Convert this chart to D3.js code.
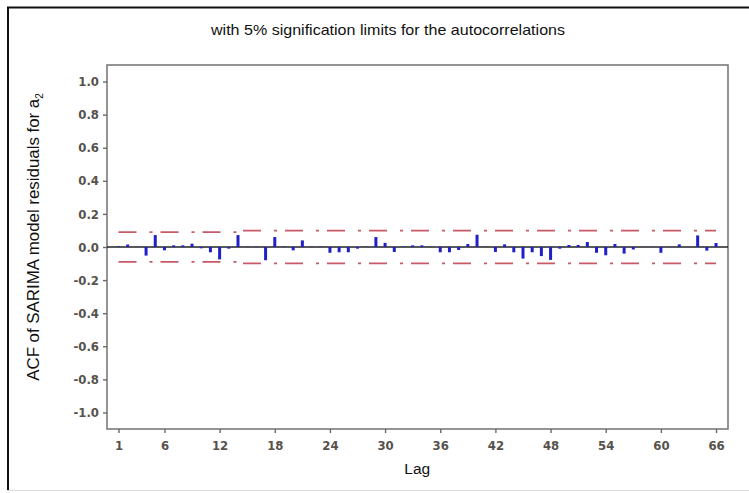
<!DOCTYPE html>
<html>
<head>
<meta charset="utf-8">
<script src="https://cdn.jsdelivr.net/npm/d3@7/dist/d3.min.js"></script>
<style>
  html, body { margin: 0; padding: 0; background: #fff; }
  svg { display: block; }
</style>
</head>
<body>
<script>
// Autocorrelations of the SARIMA residuals, lags 1..66
const acfValues = [
  0.004, 0.015, 0.002, -0.052, 0.072, -0.020, 0.010, 0.010, 0.020, -0.008,
  -0.032, -0.075, -0.010, 0.072, 0.002, 0.002, -0.080, 0.060, 0.003, -0.020,
  0.040, 0.002, 0.002, -0.035, -0.032, -0.032, -0.010, 0.002, 0.060, 0.025,
  -0.030, 0.002, 0.010, 0.010, 0.002, -0.032, -0.032, -0.018, 0.018, 0.074,
  0.002, -0.030, 0.016, -0.032, -0.070, -0.032, -0.055, -0.078, -0.010, 0.012,
  0.012, 0.030, -0.035, -0.050, 0.018, -0.040, -0.015, 0.001, 0.001, -0.035,
  0.001, 0.016, 0.001, 0.070, -0.022, 0.024
];
const lagLabels = acfValues.map((v, i) => i + 1);

// Axis ticks
const xTickLags = [1, 6, 12, 18, 24, 30, 36, 42, 48, 54, 60, 66];
const yTickValues = [1.0, 0.8, 0.6, 0.4, 0.2, 0.0, -0.2, -0.4, -0.6, -0.8, -1.0];

// 5% significance limits (±), piecewise over lag ranges
const limitLagBreaks = [1, 14.5, 66];
const limitLevels = [0.090, 0.099];

// Texts
const titleText = "with 5% signification limits for the autocorrelations";
const yLabelMain = "ACF of SARIMA model residuals for a";
const yLabelSub = "2";
const xLabelText = "Lag";

const W = 749, H = 493;
const plot = { left: 107, right: 728, top: 65, bottom: 429 };

const svg = d3.select("body").append("svg")
  .attr("width", W).attr("height", H);

// outer frame
svg.append("line").attr("x1", 7).attr("y1", 7.5).attr("x2", W).attr("y2", 7.5)
  .attr("stroke", "#111").attr("stroke-width", 2);
svg.append("line").attr("x1", 8).attr("y1", 7).attr("x2", 8).attr("y2", 490)
  .attr("stroke", "#111").attr("stroke-width", 2);
svg.append("line").attr("x1", 7).attr("y1", 490.5).attr("x2", W).attr("y2", 490.5)
  .attr("stroke", "#dcdcdc").attr("stroke-width", 1);

const x = d3.scaleLinear().domain([-0.25, 67.3]).range([plot.left, plot.right]);
const y = d3.scaleLinear().domain([-1.1, 1.1]).range([plot.bottom, plot.top]);

// title
svg.append("text")
  .attr("x", 388).attr("y", 35)
  .attr("text-anchor", "middle")
  .attr("font-family", "Liberation Sans, Arial, sans-serif")
  .attr("font-size", 14.5)
  .attr("textLength", 354)
  .attr("lengthAdjust", "spacingAndGlyphs")
  .attr("fill", "#111")
  .text(titleText);

// plot frame
svg.append("rect")
  .attr("x", plot.left).attr("y", plot.top)
  .attr("width", plot.right - plot.left).attr("height", plot.bottom - plot.top)
  .attr("fill", "none").attr("stroke", "#7a7a7a").attr("stroke-width", 1.6);

// axes
const tickFont = "Liberation Sans Narrow, DejaVu Sans Condensed, Arial Narrow, sans-serif";
const yAxis = d3.axisLeft(y).tickValues(yTickValues).tickSize(4).tickPadding(4)
  .tickFormat(d => d.toFixed(1));
const gy = svg.append("g").attr("transform", `translate(${plot.left},0)`).call(yAxis);
const xAxis = d3.axisBottom(x).tickValues(xTickLags).tickSize(4).tickPadding(8)
  .tickFormat(d => String(d));
const gx = svg.append("g").attr("transform", `translate(0,${plot.bottom})`).call(xAxis);
[gx, gy].forEach(g => {
  g.select(".domain").remove();
  g.selectAll(".tick line").attr("stroke", "#6a6a6a").attr("stroke-width", 1.4);
  g.selectAll(".tick text")
    .attr("font-family", tickFont)
    .attr("font-weight", "bold")
    .attr("font-size", 13)
    .attr("fill", "#57524c");
});

// significance limits
const limitColor = "#c65a67";
const limitPoints = sign => {
  const pts = [];
  limitLevels.forEach((lv, i) => {
    pts.push([limitLagBreaks[i], sign * lv]);
    pts.push([limitLagBreaks[i + 1], sign * lv]);
  });
  return pts;
};
const limitLine = d3.line().x(d => x(d[0])).y(d => y(d[1]));
[1, -1].forEach(sign => {
  svg.append("path")
    .attr("d", limitLine(limitPoints(sign)))
    .attr("fill", "none")
    .attr("stroke", limitColor)
    .attr("stroke-width", 1.7)
    .attr("stroke-dasharray", "18,13,3,8");
});

// zero reference line
svg.append("line")
  .attr("x1", plot.left).attr("x2", plot.right)
  .attr("y1", y(0)).attr("y2", y(0))
  .attr("stroke", "#222").attr("stroke-width", 1.3);

// ACF bars
svg.append("g").selectAll("line")
  .data(acfValues)
  .join("line")
  .attr("x1", (d, i) => x(lagLabels[i]))
  .attr("x2", (d, i) => x(lagLabels[i]))
  .attr("y1", y(0))
  .attr("y2", d => y(d))
  .attr("stroke", "#2020c8")
  .attr("stroke-width", 3);

// axis titles
const yl = svg.append("text")
  .attr("transform", `translate(39,237) rotate(-90)`)
  .attr("text-anchor", "middle")
  .attr("font-family", "Liberation Sans, Arial, sans-serif")
  .attr("font-size", 16)
  .attr("fill", "#111");
yl.append("tspan").attr("textLength", 282).attr("lengthAdjust", "spacingAndGlyphs").text(yLabelMain);
yl.append("tspan").attr("font-size", 10).attr("dy", 4).text(yLabelSub);

svg.append("text")
  .attr("x", x(33.5)).attr("y", 474)
  .attr("text-anchor", "middle")
  .attr("font-family", "Liberation Sans, Arial, sans-serif")
  .attr("font-size", 15.5)
  .attr("fill", "#111")
  .text(xLabelText);
</script>
</body>
</html>
